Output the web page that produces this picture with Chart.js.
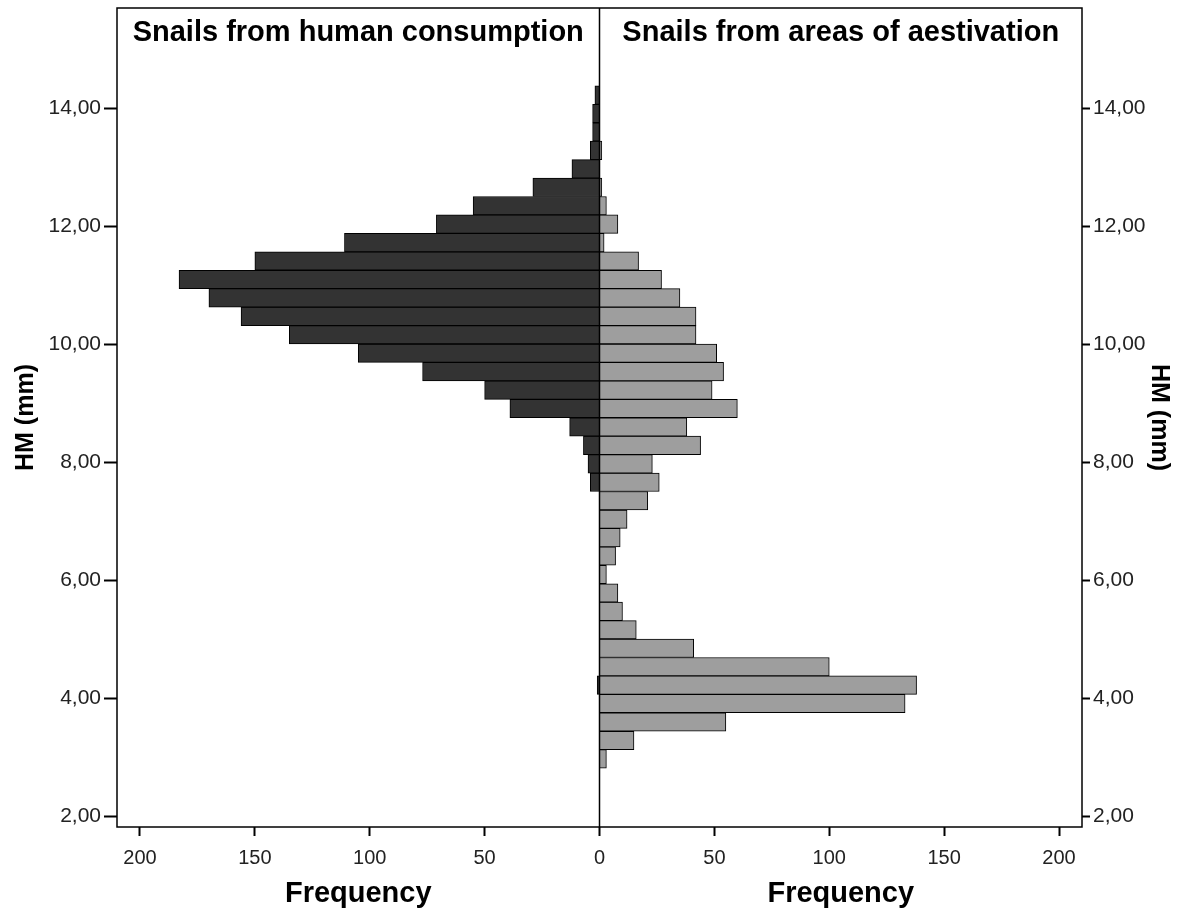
<!DOCTYPE html>
<html>
<head>
<meta charset="utf-8">
<script src="https://cdn.jsdelivr.net/npm/chart.js@4"></script>
<style>
  html, body { margin: 0; padding: 0; background: #fff; }
  #wrap { width: 1191px; height: 913px; }
</style>
</head>
<body>
<div id="wrap"><canvas id="myChart"></canvas></div>
<script>
// HM bin centres in mm (bins are 0.3125 mm wide)
const binCentres = [2.96875, 3.28125, 3.59375, 3.90625, 4.21875, 4.53125, 4.84375, 5.15625,
  5.46875, 5.78125, 6.09375, 6.40625, 6.71875, 7.03125, 7.34375, 7.65625, 7.96875, 8.28125,
  8.59375, 8.90625, 9.21875, 9.53125, 9.84375, 10.15625, 10.46875, 10.78125, 11.09375,
  11.40625, 11.71875, 12.03125, 12.34375, 12.65625, 12.96875, 13.28125, 13.59375, 13.90625,
  14.21875];

// frequencies, one per bin
const humanCounts = [0, 0, 0, 0, 1, 0, 0, 0, 0, 0, 0, 0, 0, 0, 0, 4, 5, 7, 13, 39, 50, 77,
  105, 135, 156, 170, 183, 150, 111, 71, 55, 29, 12, 4, 3, 3, 2];
const aestivationCounts = [3, 15, 55, 133, 138, 100, 41, 16, 10, 8, 3, 7, 9, 12, 21, 26, 23,
  44, 38, 60, 49, 54, 51, 42, 42, 35, 27, 17, 2, 8, 3, 1, 0, 1, 0, 0, 0];

const yTicks = [2, 4, 6, 8, 10, 12, 14];
const xTicks = [-200, -150, -100, -50, 0, 50, 100, 150, 200];
const panelTitles = ['Snails from human consumption', 'Snails from areas of aestivation'];
const xTitle = 'Frequency';
const yTitle = 'HM (mm)';

const ctx = document.getElementById('myChart').getContext('2d');
const fontFamily = "'Liberation Sans', Arial, sans-serif";

const fmtY = v => Number(v).toFixed(2).replace('.', ',');

// frame, centre line and the panel texts
const panelText = {
  id: 'panelText',
  afterDatasetsDraw(chart) {
    const {ctx, chartArea: a, scales: {x}} = chart;
    const mid = x.getPixelForValue(0);
    ctx.save();
    ctx.strokeStyle = '#000';
    ctx.lineWidth = 1.5;
    ctx.strokeRect(a.left, a.top, a.right - a.left, a.bottom - a.top);
    ctx.beginPath();
    ctx.moveTo(mid, a.top);
    ctx.lineTo(mid, a.bottom);
    ctx.stroke();
    ctx.restore();
  },
  afterDraw(chart) {
    const {ctx, chartArea: a, scales: {x}} = chart;
    const lx = x.getPixelForValue(-105);
    const rx = x.getPixelForValue(105);
    ctx.save();
    ctx.fillStyle = '#000';
    ctx.textAlign = 'center';
    ctx.textBaseline = 'middle';
    ctx.font = 'bold 29px ' + fontFamily;
    ctx.fillText(panelTitles[0], lx, a.top + 25);
    ctx.fillText(panelTitles[1], rx, a.top + 25);
    ctx.fillText(xTitle, lx, a.bottom + 67);
    ctx.fillText(xTitle, rx, a.bottom + 67);
    ctx.restore();
  }
};

const yScale = (position, width, tickLen, titlePad) => ({
  type: 'linear',
  position: position,
  min: 1.814,
  max: 15.695,
  offset: false,
  afterBuildTicks: s => { s.ticks = yTicks.map(v => ({value: v})); },
  afterFit: s => { s.width = width; s.paddingTop = 0; s.paddingBottom = 0; },
  ticks: {
    color: '#222',
    padding: 3,
    font: {family: fontFamily, size: 21},
    callback: v => fmtY(v)
  },
  grid: {display: true, drawOnChartArea: false, offset: false, tickLength: tickLen,
         tickColor: '#000', tickWidth: 2},
  border: {display: false},
  title: {display: true, text: yTitle, color: '#000', padding: {top: titlePad, bottom: 0},
          font: {family: fontFamily, size: 25, weight: 'bold'}}
});

const chart = new Chart(ctx, {
  type: 'bar',
  data: {
    datasets: [{
      label: panelTitles[0],
      data: binCentres.map((b, i) => ({x: -humanCounts[i], y: b})),
      backgroundColor: '#333333',
      borderColor: '#000',
      borderWidth: 1,
      grouped: false,
      barPercentage: 1,
      categoryPercentage: 1
    }, {
      label: panelTitles[1],
      data: binCentres.map((b, i) => ({x: aestivationCounts[i], y: b})),
      backgroundColor: '#9e9e9e',
      borderColor: '#000',
      borderWidth: 1,
      grouped: false,
      barPercentage: 1,
      categoryPercentage: 1
    }]
  },
  options: {
    indexAxis: 'y',
    responsive: true,
    maintainAspectRatio: false,
    animation: false,
    layout: {padding: {top: 8, left: 0, right: 0, bottom: 0}},
    plugins: {legend: {display: false}, tooltip: {enabled: false}},
    scales: {
      x: {
        type: 'linear',
        min: -210,
        max: 210,
        afterBuildTicks: s => { s.ticks = xTicks.map(v => ({value: v})); },
        afterFit: s => { s.height = 86; s.paddingLeft = 0; s.paddingRight = 0; },
        ticks: {
          color: '#222',
          padding: 10,
          maxRotation: 0,
          font: {family: fontFamily, size: 20},
          callback: v => String(Math.abs(v))
        },
        grid: {display: true, drawOnChartArea: false, tickLength: 9, tickColor: '#000', tickWidth: 2},
        border: {display: false}
      },
      y: yScale('left', 117, 13, 11),
      y2: yScale('right', 109, 8, 17)
    }
  },
  plugins: [panelText]
});
</script>
</body>
</html>
